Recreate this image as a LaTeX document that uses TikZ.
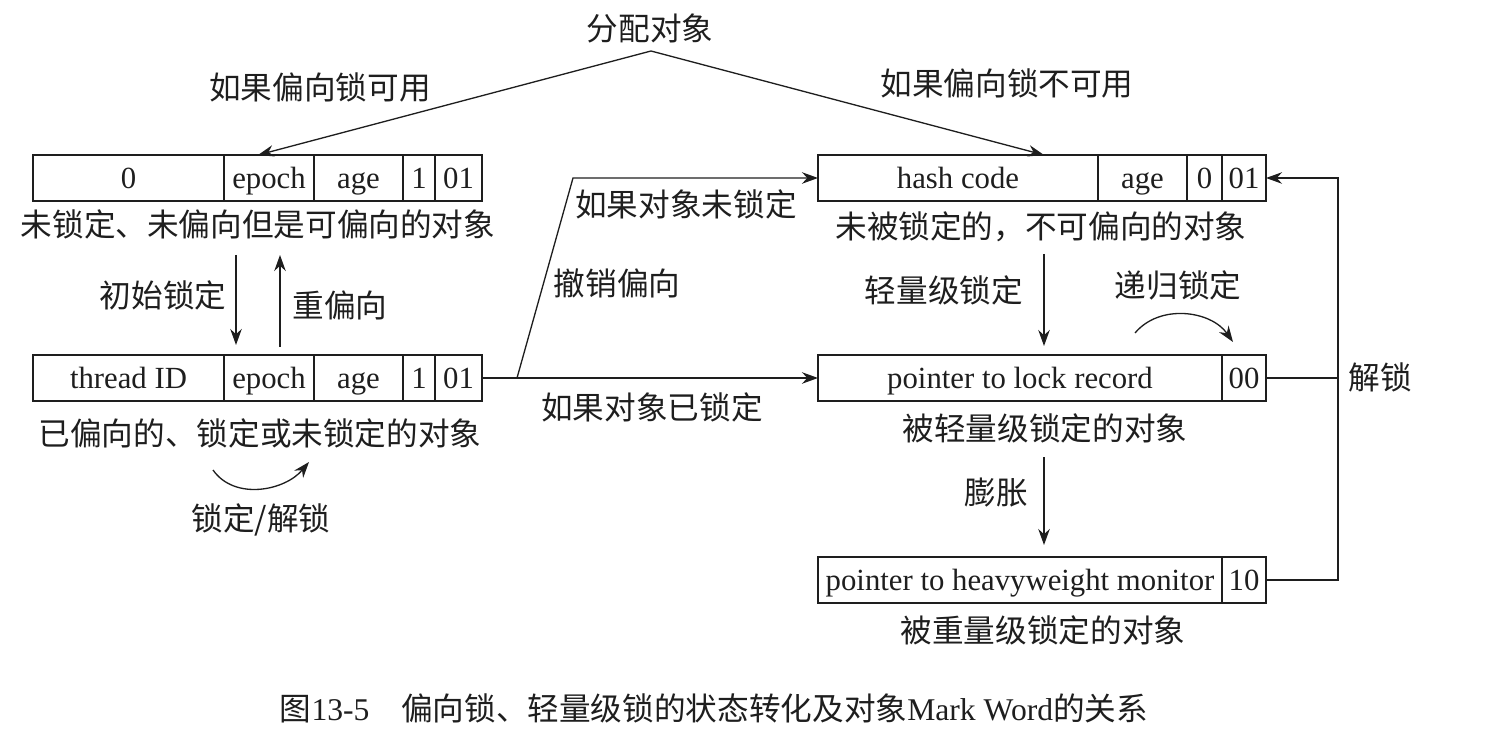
\documentclass[tikz,border=0pt]{standalone}
\usepackage{fontspec}
\setmainfont{Liberation Serif}
\newfontfamily\cjk{Noto Sans CJK SC}
\usetikzlibrary{
  arrows.meta,
  positioning,
  calc
}
\definecolor{MWInk}{HTML}{1E1E1E}
\tikzset{
  mwfield/.style={
    draw=MWInk,
    line width=0.75pt,
    minimum height=0.92cm,
    inner sep=0pt,
    outer sep=0pt,
    text=MWInk,
    font=\fontsize{17.5}{20}\selectfont,
    text height=14pt,
    text depth=2pt
  },
  mwtag/.style={
    font=\cjk\fontsize{18}{21}\selectfont,
    text=MWInk,
    inner sep=1pt
  },
  mwarrow/.style={
    -{Stealth[length=3.2mm,width=2.3mm]},
    line width=0.75pt,
    draw=MWInk
  },
  mwline/.style={
    line width=0.75pt,
    draw=MWInk
  }
}

\begin{document}
\begin{tikzpicture}
  \useasboundingbox (0,0) rectangle (29.88,-14.96);

  % biasable, unlocked
  \node[mwfield,minimum width=3.82cm,anchor=west] (b1z) at (0.66,-3.56) {0};
  \node[mwfield,minimum width=1.80cm,right=0pt of b1z] (b1e) {epoch};
  \node[mwfield,minimum width=1.78cm,right=0pt of b1e] (b1a) {age};
  \node[mwfield,minimum width=0.64cm,right=0pt of b1a] (b1b) {1};
  \node[mwfield,minimum width=0.94cm,right=0pt of b1b] (b1o) {01};
  \node[mwtag] (lab1) at (5.16,-4.48) {未锁定、未偏向但是可偏向的对象};

  % biased
  \node[mwfield,minimum width=3.82cm,anchor=west] (b2t) at (0.66,-7.56) {thread ID};
  \node[mwfield,minimum width=1.80cm,right=0pt of b2t] (b2e) {epoch};
  \node[mwfield,minimum width=1.78cm,right=0pt of b2e] (b2a) {age};
  \node[mwfield,minimum width=0.64cm,right=0pt of b2a] (b2b) {1};
  \node[mwfield,minimum width=0.94cm,right=0pt of b2b] (b2o) {01};
  \node[mwtag] (lab2) at (5.2,-8.66) {已偏向的、锁定或未锁定的对象};

  % unlocked, not biasable
  \node[mwfield,minimum width=5.60cm,anchor=west] (b3h) at (16.36,-3.56) {hash code};
  \node[mwfield,minimum width=1.78cm,right=0pt of b3h] (b3a) {age};
  \node[mwfield,minimum width=0.70cm,right=0pt of b3a] (b3b) {0};
  \node[mwfield,minimum width=0.88cm,right=0pt of b3b] (b3o) {01};
  \node[mwtag] (lab3) at (20.82,-4.54) {未被锁定的，不可偏向的对象};

  % lightweight
  \node[mwfield,minimum width=8.08cm,anchor=west] (b4p) at (16.36,-7.56) {pointer to lock record};
  \node[mwfield,minimum width=0.88cm,right=0pt of b4p] (b4t) {00};
  \node[mwtag] (lab4) at (20.9,-8.56) {被轻量级锁定的对象};

  % heavyweight
  \node[mwfield,minimum width=8.08cm,anchor=west] (b5p) at (16.36,-11.6) {pointer to heavyweight monitor};
  \node[mwfield,minimum width=0.88cm,right=0pt of b5p] (b5t) {10};
  \node[mwtag] (lab5) at (20.86,-12.6) {被重量级锁定的对象};

  % allocation
  \node[mwtag] (alloc) at (13.0,-0.56) {分配对象};
  \coordinate (top) at (13.02,-1.02);
  \draw[mwarrow] (top) -- ([xshift=0.68cm]b1e.north west);
  \draw[mwarrow] (top) -- ([xshift=4.52cm]b3h.north west);
  \node[mwtag] at (6.4,-1.74) {如果偏向锁可用};
  \node[mwtag] at (20.14,-1.66) {如果偏向锁不可用};

  % bias / rebias
  \draw[mwarrow,shorten <=1.08cm,shorten >=0.2cm]
    ([xshift=0.24cm]b1e.south west) -- ([xshift=0.24cm]b2e.north west);
  \draw[mwarrow,shorten <=0.16cm,shorten >=1.08cm]
    ([xshift=1.12cm]b2e.north west) -- ([xshift=1.12cm]b1e.south west);
  \node[mwtag] at (3.26,-5.9) {初始锁定};
  \node[mwtag] at (6.8,-6.1) {重偏向};

  \coordinate (lkS) at (4.26,-9.4);
  \coordinate (lkE) at (6.18,-9.24);
  \draw[mwarrow] (lkS) to[out=-55,in=-130] (lkE);
  \node[mwtag] at (5.22,-10.4) {锁定/解锁};

  % revoke bias
  \coordinate (jn) at (10.34,-7.56);
  \coordinate (bend) at (11.46,-3.56);
  \draw[mwarrow] (b2o.east) -- (b4p.west);
  \draw[mwarrow] (jn) -- (bend) -- (b3h.west);
  \node[mwtag] at (13.72,-4.08) {如果对象未锁定};
  \node[mwtag] at (12.34,-5.66) {撤销偏向};
  \node[mwtag] at (13.04,-8.14) {如果对象已锁定};

  % lightweight / inflate
  \draw[mwarrow,shorten <=1.06cm,shorten >=0.18cm]
    ([xshift=4.52cm]b3h.south west) -- ([xshift=4.52cm]b4p.north west);
  \node[mwtag] at (18.88,-5.8) {轻量级锁定};
  \coordinate (rcS) at (22.7,-6.66);
  \coordinate (rcE) at (24.66,-6.84);
  \draw[mwarrow] (rcS) to[out=50,in=125] (rcE);
  \node[mwtag] at (23.56,-5.7) {递归锁定};

  \draw[mwarrow,shorten <=1.12cm,shorten >=0.24cm]
    ([xshift=4.52cm]b4p.south west) -- ([xshift=4.52cm]b5p.north west);
  \node[mwtag] at (19.92,-9.86) {膨胀};

  % unlock
  \coordinate (ux) at (26.76,0);
  \draw[mwarrow] (b5t.east) -| (ux |- b3o.east) -- (b3o.east);
  \draw[mwline] (b4t.east) -- (ux |- b4t.east);
  \node[mwtag] at (27.6,-7.54) {解锁};

  \node[mwtag] (cap) at (14.28,-14.16)
    {图{\rmfamily 13-5}\quad 偏向锁、轻量级锁的状态转化及对象{\rmfamily Mark Word}的关系};
\end{tikzpicture}
\end{document}
